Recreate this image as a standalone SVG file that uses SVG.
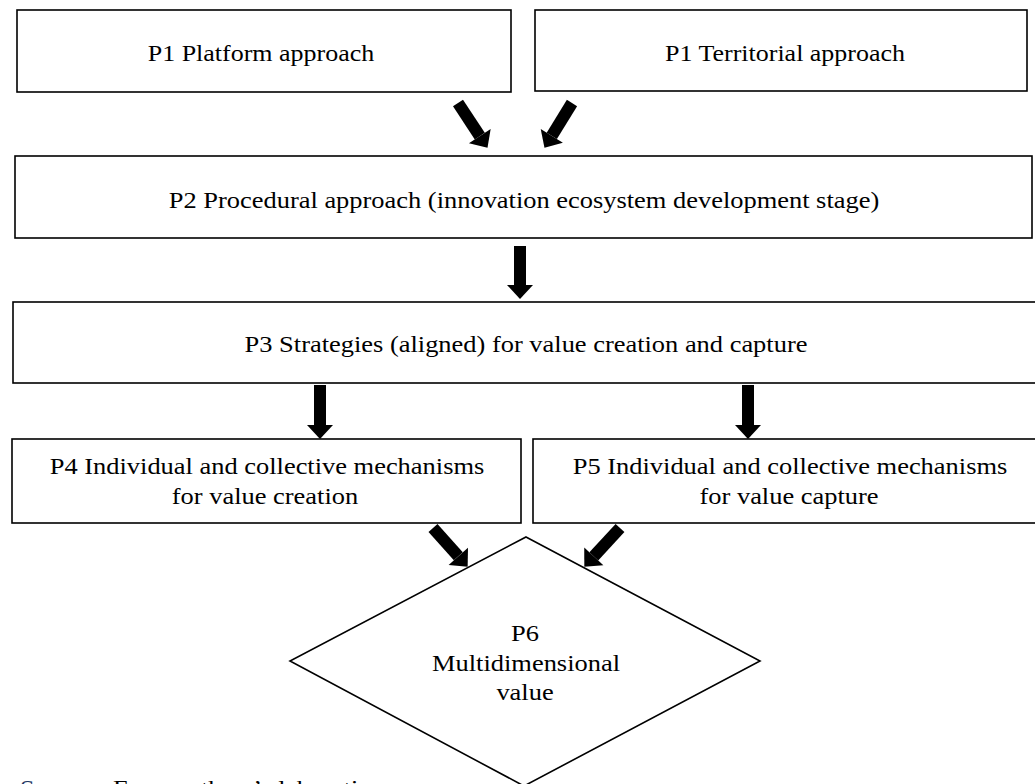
<svg xmlns="http://www.w3.org/2000/svg" width="1035" height="784" viewBox="0 0 1035 784">
<style>
.box{fill:#fff;stroke:#000;stroke-width:1.6}
.lbl{font-family:"Liberation Serif","Times New Roman",serif;font-size:23px;fill:#000;text-anchor:middle}
.src{font-family:"Liberation Serif","Times New Roman",serif;font-size:22px;fill:#000}
.arr{stroke:#000;stroke-width:12;fill:none;marker-end:url(#head)}
</style>
<defs>
<marker id="head" markerUnits="userSpaceOnUse" viewBox="0 0 14 26" refX="0" refY="13" markerWidth="14" markerHeight="26" orient="auto" overflow="visible">
<path d="M0,0 L14,13 L0,26 Z" fill="#000"/>
</marker>
</defs>
<rect width="1035" height="784" fill="#fff"/>
<g id="P1a"><rect class="box" x="17" y="10" width="494" height="82"/><text class="lbl" transform="translate(261,61) scale(1.13,1)">P1 Platform approach</text></g>
<g id="P1b"><rect class="box" x="535" y="10" width="492" height="81"/><text class="lbl" transform="translate(785,61) scale(1.13,1)">P1 Territorial approach</text></g>
<g id="P2"><rect class="box" x="15" y="156" width="1017" height="82"/><text class="lbl" transform="translate(524,208) scale(1.15,1)">P2 Procedural approach (innovation ecosystem development stage)</text></g>
<g id="P3"><rect class="box" x="13" y="302" width="1030" height="81"/><text class="lbl" transform="translate(526,352) scale(1.15,1)">P3 Strategies (aligned) for value creation and capture</text></g>
<g id="P4"><rect class="box" x="12" y="439" width="509" height="84"/><text class="lbl" transform="translate(267,474) scale(1.15,1)">P4 Individual and collective mechanisms</text><text class="lbl" transform="translate(265,504) scale(1.15,1)">for value creation</text></g>
<g id="P5"><rect class="box" x="533" y="439" width="510" height="84"/><text class="lbl" transform="translate(790,474) scale(1.15,1)">P5 Individual and collective mechanisms</text><text class="lbl" transform="translate(789,504) scale(1.15,1)">for value capture</text></g>
<g id="P6"><polygon class="box" points="526,537 760,661 524,786 290,661"/><text class="lbl" transform="translate(525,641) scale(1.15,1)">P6</text><text class="lbl" transform="translate(526,671) scale(1.15,1)">Multidimensional</text><text class="lbl" transform="translate(525,700) scale(1.15,1)">value</text></g>
<g id="connectors">
<line class="arr" x1="458" y1="103" x2="479.8" y2="136.1"/>
<line class="arr" x1="572" y1="103" x2="551.8" y2="135.9"/>
<line class="arr" x1="520" y1="246" x2="520" y2="285"/>
<line class="arr" x1="320" y1="385" x2="320" y2="425"/>
<line class="arr" x1="748" y1="385" x2="748" y2="425"/>
<line class="arr" x1="433" y1="528" x2="458.3" y2="556.3"/>
<line class="arr" x1="620" y1="528" x2="593.8" y2="556.4"/>
</g>
<g id="source"><text class="src" transform="translate(20,795) scale(1.19,1)" style="fill:#1F3864">Source:</text><text class="src" transform="translate(113,795) scale(1.19,1)">From authors’ elaboration</text></g>
</svg>
